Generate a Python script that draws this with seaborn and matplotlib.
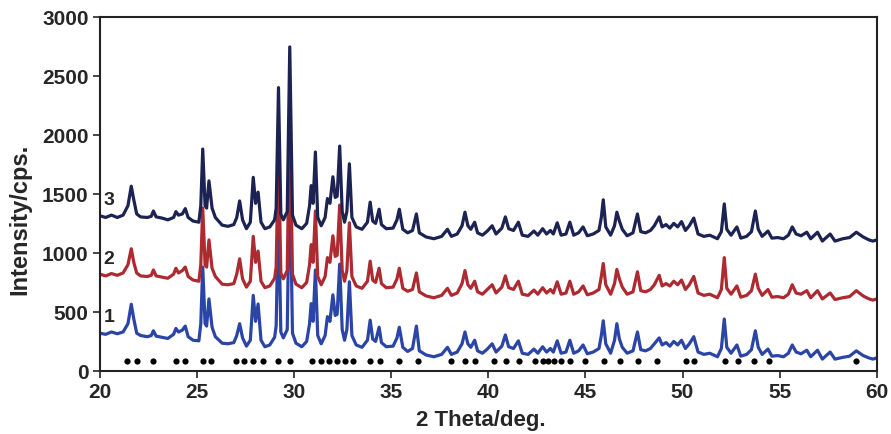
import numpy as np
import pandas as pd
import seaborn as sns
import matplotlib.pyplot as plt

# vertices of the three traces (2 theta, intensity)
two_theta = [20.0, 20.3, 20.6, 20.9, 21.2, 21.45, 21.62, 21.75, 21.9, 22.1,
             22.45, 22.65, 22.76, 22.9, 23.2, 23.5, 23.8, 23.92, 24.05, 24.25,
             24.4, 24.55, 24.8, 25.1, 25.2, 25.3, 25.42, 25.5, 25.62, 25.78,
             25.95, 26.3, 26.6, 26.9, 27.05, 27.2, 27.35, 27.55, 27.75, 27.9,
             28.02, 28.15, 28.3, 28.5, 28.75, 29.0, 29.08, 29.2, 29.32, 29.45,
             29.65, 29.78, 29.92, 30.1, 30.4, 30.65, 30.8, 30.88, 30.98, 31.1,
             31.22, 31.4, 31.6, 31.72, 31.85, 32.0, 32.12, 32.22, 32.35, 32.48,
             32.6, 32.72, 32.85, 32.98, 33.2, 33.5, 33.78, 33.92, 34.05, 34.2,
             34.38, 34.5, 34.75, 35.1, 35.3, 35.42, 35.6, 35.85, 36.1, 36.3,
             36.45, 36.8, 37.2, 37.6, 37.9, 38.1, 38.4, 38.65, 38.8, 38.95,
             39.1, 39.3, 39.45, 39.7, 39.95, 40.2, 40.4, 40.7, 40.88, 41.05,
             41.3, 41.55, 41.75, 42.05, 42.35, 42.55, 42.8, 43.0, 43.2, 43.35,
             43.55, 43.75, 44.0, 44.2, 44.4, 44.65, 44.88, 45.1, 45.4, 45.7,
             45.82, 45.92, 46.05, 46.3, 46.5, 46.62, 46.75, 46.9, 47.15, 47.45,
             47.68, 47.85, 48.1, 48.35, 48.55, 48.8, 48.95, 49.15, 49.35, 49.55,
             49.75, 49.95, 50.15, 50.35, 50.58, 50.8, 51.1, 51.4, 51.8, 52.0,
             52.15, 52.28, 52.5, 52.8, 53.0, 53.3, 53.55, 53.75, 53.9, 54.1,
             54.4, 54.6, 54.9, 55.2, 55.45, 55.65, 55.85, 56.1, 56.4, 56.6,
             56.95, 57.2, 57.6, 57.85, 58.25, 58.6, 58.95, 59.3, 59.6, 59.8, 60.0]

int_3 = [1315, 1300, 1320, 1300, 1320, 1400, 1565, 1450, 1330, 1305,
         1300, 1310, 1355, 1305, 1295, 1280, 1300, 1350, 1320, 1330,
         1375, 1300, 1270, 1260, 1400, 1880, 1400, 1380, 1610, 1380,
         1300, 1235, 1225, 1240, 1300, 1440, 1280, 1205, 1260, 1640,
         1420, 1515, 1260, 1205, 1220, 1280, 1380, 2400, 1330, 1280,
         1350, 2745, 1320, 1235, 1205, 1250, 1400, 1570, 1420, 1855,
         1300, 1230, 1300, 1460, 1420, 1645, 1470, 1480, 1905, 1350,
         1260, 1350, 1755, 1300, 1220, 1200, 1260, 1430, 1270, 1250,
         1370, 1240, 1205, 1210, 1280, 1370, 1200, 1170, 1190, 1330,
         1170, 1135, 1120, 1140, 1200, 1140, 1160, 1230, 1345, 1230,
         1200, 1260, 1170, 1150, 1185, 1230, 1160, 1210, 1305, 1205,
         1190, 1260, 1150, 1140, 1185, 1150, 1205, 1160, 1190, 1160,
         1255, 1150, 1160, 1260, 1150, 1170, 1220, 1145, 1160, 1190,
         1300, 1450, 1220, 1150, 1230, 1345, 1270, 1200, 1145, 1170,
         1330, 1180, 1170, 1190, 1230, 1305, 1220, 1240, 1210, 1250,
         1220, 1265, 1190, 1230, 1295, 1160, 1140, 1150, 1120, 1180,
         1415, 1200, 1150, 1220, 1125, 1140, 1180, 1355, 1200, 1140,
         1185, 1125, 1130, 1120, 1150, 1220, 1160, 1145, 1175, 1120,
         1175, 1100, 1160, 1100, 1120, 1130, 1175, 1135, 1110, 1100, 1110]

int_2 = [820, 805, 825, 810, 830, 900, 1035, 920, 830, 805,
         800, 810, 855, 805, 795, 785, 820, 870, 830, 850,
         880, 800, 770, 760, 900, 1380, 900, 880, 1110, 870,
         800, 735, 730, 740, 820, 950, 780, 710, 760, 1140,
         920, 1015, 760, 705, 720, 785, 880, 1900, 830, 780,
         850, 2245, 820, 735, 705, 750, 900, 1070, 920, 1355,
         800, 730, 800, 960, 920, 1145, 970, 980, 1405, 850,
         760, 850, 1255, 800, 720, 700, 760, 930, 770, 750,
         870, 740, 705, 710, 780, 870, 700, 675, 690, 830,
         670, 635, 620, 640, 700, 640, 660, 740, 850, 730,
         700, 760, 670, 650, 690, 730, 660, 710, 805, 705,
         690, 760, 650, 640, 685, 650, 705, 660, 690, 660,
         755, 650, 660, 760, 650, 670, 720, 645, 660, 690,
         800, 910, 730, 650, 740, 860, 780, 710, 650, 670,
         840, 680, 670, 690, 730, 810, 720, 740, 720, 760,
         730, 770, 690, 730, 800, 660, 640, 650, 620, 690,
         960, 700, 650, 720, 625, 640, 680, 820, 700, 640,
         690, 625, 630, 620, 650, 730, 660, 650, 680, 620,
         680, 610, 660, 605, 620, 630, 680, 635, 610, 600, 610]

int_1 = [320, 310, 330, 315, 330, 400, 565, 440, 320, 300,
         290, 300, 340, 295, 285, 275, 310, 360, 330, 345,
         380, 290, 260, 255, 400, 880, 400, 380, 610, 370,
         290, 235, 230, 240, 300, 400, 280, 210, 260, 640,
         420, 567, 260, 205, 220, 285, 380, 1400, 330, 280,
         350, 1745, 320, 235, 205, 250, 400, 570, 420, 855,
         300, 230, 300, 460, 420, 645, 470, 480, 905, 350,
         260, 350, 755, 300, 220, 200, 260, 430, 270, 250,
         370, 240, 205, 210, 280, 370, 200, 165, 190, 380,
         170, 135, 120, 140, 200, 140, 160, 230, 330, 230,
         200, 260, 170, 150, 185, 230, 160, 210, 305, 205,
         190, 255, 150, 140, 185, 150, 205, 160, 190, 160,
         255, 150, 160, 260, 150, 170, 220, 145, 160, 190,
         300, 425, 230, 150, 260, 400, 270, 200, 150, 170,
         330, 180, 170, 190, 230, 280, 220, 240, 210, 250,
         220, 260, 190, 230, 290, 160, 140, 150, 120, 190,
         440, 200, 150, 220, 125, 140, 180, 340, 200, 140,
         185, 125, 130, 120, 150, 220, 160, 145, 175, 120,
         175, 100, 160, 100, 115, 125, 170, 130, 110, 100, 110]

# reflection markers along the bottom
marker_pos = [21.4, 21.9, 22.76, 23.9, 24.4, 25.3, 25.75, 27.0, 27.4, 27.9, 28.4, 29.2, 29.8,
              30.9, 31.4, 31.8, 32.2, 32.6, 33.05, 33.9, 34.45, 35.4, 36.4, 38.1, 38.8, 39.3,
              40.3, 40.9, 41.6, 42.4, 42.8, 43.1, 43.4, 43.75, 44.2, 45.0, 45.96, 46.8, 47.7,
              48.7, 50.2, 50.6, 52.2, 52.85, 53.7, 54.45, 58.95]
marker_level = 85

labels = ["1", "2", "3"]
label_y = [457, 950, 1450]
colors = ["#2b45a6", "#ad2a31", "#1c2352"]

sns.set_style("ticks")
plt.rcParams['font.family'] = ['Liberation Sans', 'DejaVu Sans']
plt.rcParams['font.weight'] = 'bold'
plt.rcParams['lines.solid_joinstyle'] = 'round'

df = pd.concat([pd.DataFrame({"two_theta": two_theta, "intensity": vals, "pattern": lab})
                for lab, vals in zip(labels, [int_1, int_2, int_3])], ignore_index=True)

fig, ax = plt.subplots(figsize=(8.91, 4.35), dpi=100)
fig.subplots_adjust(left=0.112, right=0.984, top=0.959, bottom=0.145)

sns.lineplot(data=df, x="two_theta", y="intensity", hue="pattern", hue_order=labels,
             palette=colors, sort=False, estimator=None, legend=False, linewidth=2.3, ax=ax)
sns.scatterplot(x=marker_pos, y=[marker_level] * len(marker_pos), color="black", s=20,
                edgecolor="black", linewidth=0, ax=ax, zorder=5)

for lab, y in zip(labels, label_y):
    ax.text(20.2, y, lab, fontsize=14, fontweight="bold", ha="left", va="center")

ax.set_xlim(20, 60)
ax.set_ylim(0, 3000)
ax.set_xticks(np.arange(20, 61, 5))
ax.set_yticks(np.arange(0, 3001, 500))
ax.tick_params(axis="both", labelsize=15, width=1.2, length=5, direction="out", pad=3)
for lbl in ax.get_xticklabels() + ax.get_yticklabels():
    lbl.set_fontweight("bold")
ax.set_xlabel("2 Theta/deg.", fontsize=16, fontweight="bold")
ax.set_ylabel("Intensity/cps.", fontsize=17, fontweight="bold")
ax.xaxis.set_label_coords(0.49, -0.108)
ax.yaxis.set_label_coords(-0.088, 0.43)
for sp in ax.spines.values():
    sp.set_visible(True)
    sp.set_linewidth(1.5)
    sp.set_color("#222222")

plt.savefig("out.png", dpi=100)
